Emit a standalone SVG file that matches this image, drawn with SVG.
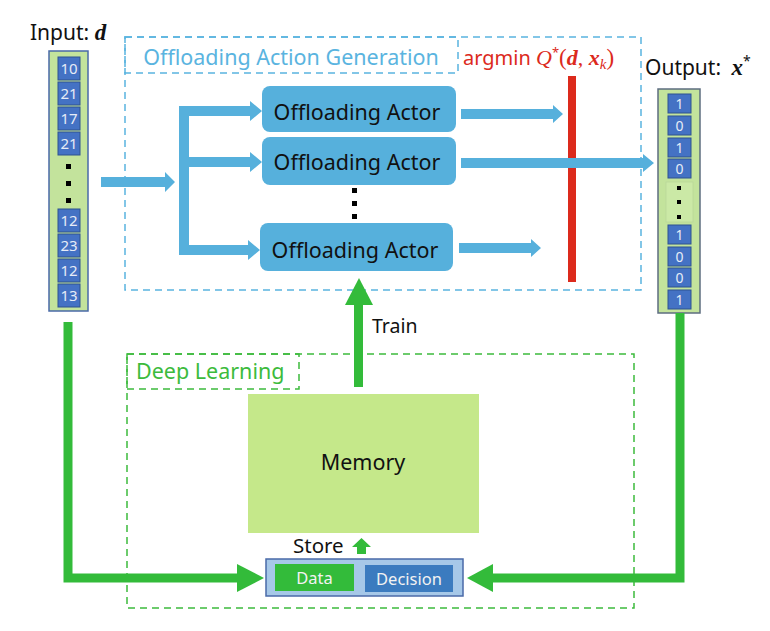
<svg xmlns="http://www.w3.org/2000/svg" width="770" height="631" viewBox="0 0 770 631">
<style>
text{font-family:"Noto Sans","Liberation Sans",sans-serif}
.math{font-family:"Liberation Serif","DejaVu Serif",serif;font-style:italic}
.cell{fill:#4472c4;stroke:#2f528f;stroke-width:1}
.ct{font-size:15px;fill:#e6ecf7;text-anchor:middle}
.ct2{font-size:14px;fill:#e6ecf7;text-anchor:middle}
.actor{fill:#56b0dc}
.at{font-size:21.5px;fill:#111;text-anchor:middle}
.barrow{fill:#56b0dc}
.garrow{fill:#33bb3a}
.gline{fill:none;stroke:#33bb3a;stroke-width:9}
.bdash{fill:none;stroke:#5ab4e0;stroke-width:1.5;stroke-dasharray:7 5}
.gdash{fill:none;stroke:#3cbb3c;stroke-width:1.5;stroke-dasharray:7 5}
.dot{fill:#000}
</style>

<g id="offloading-group">
<rect class="bdash" x="125" y="37" width="516" height="253"/>
<rect class="bdash" x="125" y="37" width="333" height="36"/>
<text x="291" y="65" font-size="21.5" fill="#5ab4e0" text-anchor="middle">Offloading Action Generation</text>
</g>

<g id="deep-learning-group">
<rect class="gdash" x="127" y="354" width="507" height="254"/>
<rect class="gdash" x="127" y="354" width="172" height="35"/>
<text x="136" y="379" font-size="21.5" fill="#3cbb3c">Deep Learning</text>
</g>

<g id="input">
<text x="30" y="40" font-size="21" fill="#111">Input: <tspan class="math" font-weight="bold" font-size="23">d</tspan></text>
<rect x="49" y="51" width="39" height="260" fill="#c3e39c" stroke="#4a6aa8" stroke-width="1.5"/>
<rect class="cell" x="58" y="57" width="22" height="23"/><text class="ct" x="69" y="74">10</text>
<rect class="cell" x="58" y="82" width="22" height="23"/><text class="ct" x="69" y="99">21</text>
<rect class="cell" x="58" y="107" width="22" height="23"/><text class="ct" x="69" y="124">17</text>
<rect class="cell" x="58" y="132" width="22" height="23"/><text class="ct" x="69" y="149">21</text>
<rect class="dot" x="66" y="164" width="5" height="5"/>
<rect class="dot" x="66" y="181" width="5" height="5"/>
<rect class="dot" x="66" y="198" width="5" height="5"/>
<rect class="cell" x="58" y="209" width="22" height="23"/><text class="ct" x="69" y="226">12</text>
<rect class="cell" x="58" y="234" width="22" height="23"/><text class="ct" x="69" y="251">23</text>
<rect class="cell" x="58" y="259" width="22" height="23"/><text class="ct" x="69" y="276">12</text>
<rect class="cell" x="58" y="284" width="22" height="23"/><text class="ct" x="69" y="301">13</text>
</g>

<g id="output">
<text x="645" y="75" font-size="21" fill="#111">Output: <tspan class="math" font-weight="bold" font-size="23" dx="5">x</tspan><tspan font-size="14" dy="-9">*</tspan></text>
<rect x="658" y="89" width="42" height="224" fill="#c3e39c" stroke="#5d6d80" stroke-width="1.5"/>
<rect class="cell" x="668" y="94" width="23" height="19"/><text class="ct2" x="679.5" y="108.5">1</text>
<rect class="cell" x="668" y="116" width="23" height="19"/><text class="ct2" x="679.5" y="130.5">0</text>
<rect class="cell" x="668" y="138" width="23" height="19"/><text class="ct2" x="679.5" y="152.5">1</text>
<rect class="cell" x="668" y="159" width="23" height="19"/><text class="ct2" x="679.5" y="173.5">0</text>
<rect x="666" y="182" width="27" height="40" fill="#cbe9a6" stroke="#b9d79a" stroke-width="0.8"/>
<rect class="dot" x="677" y="186" width="4" height="4"/>
<rect class="dot" x="677" y="200" width="4" height="4"/>
<rect class="dot" x="677" y="215" width="4" height="4"/>
<rect class="cell" x="668" y="225" width="23" height="19"/><text class="ct2" x="679.5" y="239.5">1</text>
<rect class="cell" x="668" y="247" width="23" height="19"/><text class="ct2" x="679.5" y="261.5">0</text>
<rect class="cell" x="668" y="268" width="23" height="19"/><text class="ct2" x="679.5" y="282.5">0</text>
<rect class="cell" x="668" y="290" width="23" height="19"/><text class="ct2" x="679.5" y="304.5">1</text>
</g>

<g id="actor1">
<rect class="actor" x="262" y="86" width="194" height="46" rx="8"/>
<text class="at" x="357" y="120">Offloading Actor</text>
</g>
<g id="actor2">
<rect class="actor" x="262" y="137" width="194" height="48" rx="8"/>
<text class="at" x="357" y="170">Offloading Actor</text>
</g>
<g id="actor-dots">
<rect class="dot" x="352" y="188" width="5" height="5"/>
<rect class="dot" x="352" y="201" width="5" height="5"/>
<rect class="dot" x="352" y="214" width="5" height="5"/>
</g>
<g id="actor3">
<rect class="actor" x="260" y="223" width="193" height="48" rx="8"/>
<text class="at" x="355" y="258">Offloading Actor</text>
</g>

<g id="argmin">
<rect x="568" y="76" width="8" height="206" fill="#dc2a1c"/>
<text x="463" y="65" font-size="20" fill="#dc2a1c">argmin <tspan class="math" font-size="22">Q</tspan><tspan font-size="13" dy="-8">*</tspan><tspan dy="8" font-family="Liberation Serif,serif" font-size="23">(</tspan><tspan class="math" font-weight="bold" font-size="22">d</tspan><tspan font-family="Liberation Serif,serif" font-size="22">, </tspan><tspan class="math" font-weight="bold" font-size="22">x</tspan><tspan class="math" font-size="15" dy="4">k</tspan><tspan font-family="Liberation Serif,serif" font-size="23" dy="-4">)</tspan></text>
</g>

<g id="memory">
<rect x="248" y="394" width="231" height="139" fill="#c5e88a"/>
<text x="363" y="470" font-size="21.5" fill="#111" text-anchor="middle">Memory</text>
</g>

<g id="store">
<text x="293" y="553" font-size="20.5" fill="#111">Store</text>
<polygon class="garrow" points="352,547 361.5,538 371,547 366,547 366,554 357,554 357,547"/>
<rect x="266" y="559" width="197" height="37" fill="#a6c8e8" stroke="#4a6aa8" stroke-width="1.5"/>
<rect x="275" y="564" width="79" height="27" fill="#33bb3a"/>
<text x="314.5" y="584" font-size="16.5" fill="#f2f2f2" text-anchor="middle">Data</text>
<rect x="365" y="565" width="88" height="27" fill="#3b7bbf"/>
<text x="409" y="585" font-size="16.5" fill="#f2f2f2" text-anchor="middle">Decision</text>
</g>

<g id="connectors">
<polygon class="barrow" points="101,177 165,177 165,172 175,182 165,192 165,187 101,187"/>
<rect class="barrow" x="179" y="106" width="10" height="149"/>
<polygon class="barrow" points="179,106 250,106 250,101 262,111 250,121 250,116 179,116"/>
<polygon class="barrow" points="179,157 250,157 250,152 262,162 250,172 250,167 179,167"/>
<polygon class="barrow" points="179,245 248,245 248,240 260,250 248,260 248,255 179,255"/>
<polygon class="barrow" points="461,109 553,109 553,105 563,114 553,123 553,119 461,119"/>
<polygon class="barrow" points="461,158 643,158 643,154 654,163 643,172 643,168 461,168"/>
<polygon class="barrow" points="459,243 531,243 531,239 541,248 531,257 531,253 459,253"/>
<rect class="garrow" x="354" y="304" width="9" height="83"/>
<polygon class="garrow" points="345,305 359,278 373,305"/>
<text x="372" y="333" font-size="19.5" fill="#111">Train</text>
<polyline class="gline" points="68,322 68,578 239,578"/>
<polygon class="garrow" points="237,564 264,578 237,592"/>
<polyline class="gline" points="680,313 680,578 491,578"/>
<polygon class="garrow" points="493,564 467,578 493,592"/>
</g>
</svg>
